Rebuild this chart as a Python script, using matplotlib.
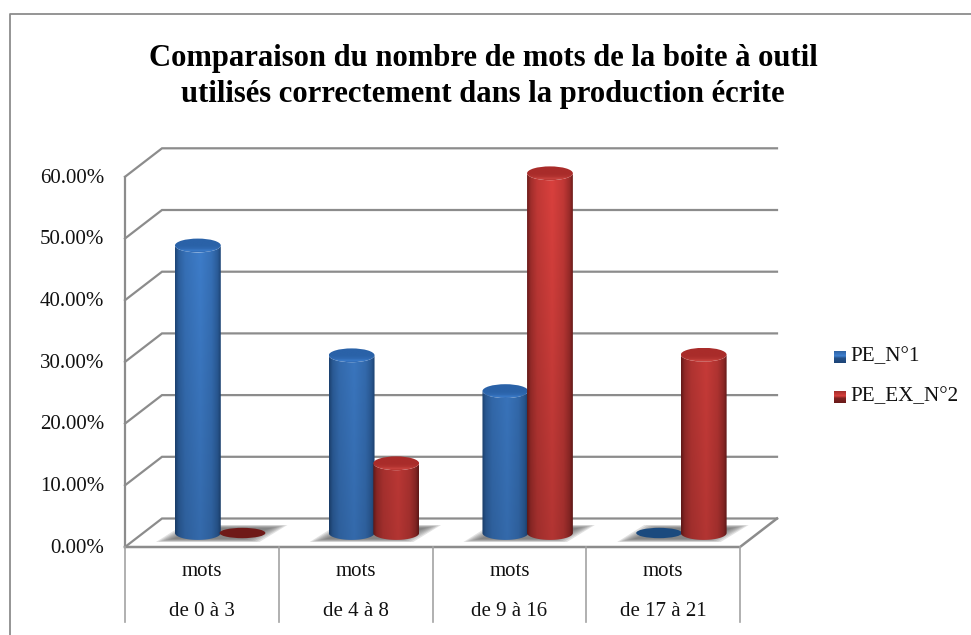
import numpy as np
import matplotlib
matplotlib.use('Agg')
import matplotlib.pyplot as plt
from matplotlib.path import Path
from matplotlib.patches import PathPatch, Ellipse, Polygon

title = "Comparaison du nombre de mots de la boite à outil\nutilisés correctement dans la production écrite"
categories_top = ['mots', 'mots', 'mots', 'mots']
categories = ['de 0 à 3', 'de 4 à 8', 'de 9 à 16', 'de 17 à 21']
series_names = ['PE_N°1', 'PE_EX_N°2']
pe_1 = [46.6, 28.8, 23.0, 0.0]
pe_ex_2 = [0.0, 11.3, 58.3, 28.9]
y_ticks = [0, 10, 20, 30, 40, 50, 60]

# layout of the 3d box, in pixels of the 971x635 picture
W, H = 971, 635
X0, CAT_W = 125, 153.75
Y0, PX_PER_PCT = 547, 6.17
DX, DY = 37 / CAT_W, 28.5 / PX_PER_PCT   # depth of the box in data units
BAR_W = 0.298
BAR_OFF = [0.325, 0.615]
BASE = 14 / PX_PER_PCT                   # bars stand in the middle of the floor
ELL_H = 6.9 / PX_PER_PCT
GRID = '#8c8c8c'
FS = 15

BLUE = dict(edge='#1d4577', mid='#3f80cf', cap='#2a62a8', rim='#3f82d2', flat='#1b4a7e')
RED = dict(edge='#6a1b1a', mid='#d8403d', cap='#a92c2a', rim='#d24a45', flat='#6f1a18')


def rgb(c):
    return np.array(matplotlib.colors.to_rgb(c))


def cylinder(ax, left, value, col, z):
    right = left + BAR_W
    cx = left + BAR_W / 2
    if value <= 0:
        ax.add_patch(Ellipse((cx, BASE), BAR_W, ELL_H * 1.5, color=col['flat'], lw=0, zorder=z))
        return
    top = BASE + value
    t = np.linspace(-np.pi, 0, 40)
    low_x = cx + BAR_W / 2 * np.cos(t)
    low_y = BASE + ELL_H * np.sin(t)
    up_x = cx + BAR_W / 2 * np.cos(t[::-1])
    up_y = top + ELL_H * np.sin(t[::-1])
    body = Path(np.column_stack([np.r_[low_x, up_x], np.r_[low_y, up_y]]))

    nx, ny = 80, 60
    u = np.linspace(0, 1, nx)
    prof = np.interp(u, [0, 0.08, 0.22, 0.55, 0.8, 0.93, 1], [0.05, 0.5, 0.78, 1, 0.78, 0.45, 0.05])
    row = rgb(col['edge'])[None, :] * (1 - prof[:, None]) + rgb(col['mid'])[None, :] * prof[:, None]
    # darker towards the floor of the chart
    y_frac = np.linspace(0, 1, ny)
    shade = 0.82 + 0.18 * np.clip((BASE + y_frac * value) / 58, 0, 1)
    img = row[None, :, :] * shade[:, None, None]
    im = ax.imshow(img, extent=[left, right, BASE - ELL_H, top], origin='lower',
                   aspect='auto', zorder=z, interpolation='bilinear')
    im.set_clip_path(PathPatch(body, transform=ax.transData))

    v = np.linspace(0, 1, 40)
    prof2 = np.interp(v, [0, 0.1, 0.22, 0.45, 1], [0.3, 0.8, 0.25, 0, 0])
    cap = rgb(col['cap'])[None, :] * (1 - prof2[:, None]) + rgb(col['rim'])[None, :] * prof2[:, None]
    im2 = ax.imshow(cap[:, None, :], extent=[left, right, top - ELL_H, top + ELL_H], origin='lower',
                    aspect='auto', zorder=z + 0.1, interpolation='bilinear')
    im2.set_clip_path(Ellipse((cx, top), BAR_W, ELL_H * 2, transform=ax.transData))


fig = plt.figure(figsize=(W / 100, H / 100), dpi=100)
plt.rcParams['font.family'] = ['Liberation Serif', 'DejaVu Serif']
ax = fig.add_axes([0, 0, 1, 1])
ax.set_xlim(-X0 / CAT_W, (W - X0) / CAT_W)
ax.set_ylim(-(H - Y0) / PX_PER_PCT, Y0 / PX_PER_PCT)
ax.set_autoscale_on(False)
ax.axis('off')

# chart border, only left and top are in the crop
ax.plot([10 / W, 10 / W, 1], [0, 1 - 14 / H, 1 - 14 / H], transform=ax.transAxes,
        color=GRID, lw=1.3, clip_on=False)

# walls
for v in y_ticks:
    ax.plot([0, DX, 4 + DX], [v, v + DY, v + DY], color=GRID, lw=1.6, solid_joinstyle='miter', zorder=1)
ax.plot([0, 0], [0, y_ticks[-1]], color=GRID, lw=1.6, zorder=1)
ax.plot([0, 4, 4 + DX], [0, 0, DY], color=GRID, lw=1.8, solid_joinstyle='miter', zorder=1)

# category separators and labels
for i in range(5):
    ax.plot([i, i], [0, -75 / PX_PER_PCT], color='#a3a3a3', lw=1.2, zorder=1)
for i in range(4):
    ax.text(i + 0.5, -25 / PX_PER_PCT, categories_top[i], ha='center', va='center', fontsize=FS, color='#111111')
    ax.text(i + 0.5, -64 / PX_PER_PCT, categories[i], ha='center', va='center', fontsize=FS, color='#111111')

# value labels
for v in y_ticks:
    ax.text(-21 / CAT_W, v - 0.2, '%.2f%%' % v, ha='right', va='center', fontsize=FS, color='#111111')

# floor shadow and bars
for i in range(4):
    sl = i + BAR_OFF[0]
    sr = i + BAR_OFF[1] + BAR_W
    for k in range(8):
        s = k * 2.4 / CAT_W
        sy = k * 0.45 / PX_PER_PCT
        ax.add_patch(Polygon([(sl - 19 / CAT_W + s, BASE - 9 / PX_PER_PCT + sy),
                              (sl + 8 / CAT_W + s, BASE + 8 / PX_PER_PCT - sy),
                              (sr + 22 / CAT_W - s, BASE + 8 / PX_PER_PCT - sy),
                              (sr - 6 / CAT_W - s, BASE - 9 / PX_PER_PCT + sy)],
                             closed=True, color='#6e6e6e', alpha=0.2, lw=0, zorder=2))
    cylinder(ax, i + BAR_OFF[0], pe_1[i], BLUE, 3 + i)
    cylinder(ax, i + BAR_OFF[1], pe_ex_2[i], RED, 3.5 + i)

# title
ax.text((483 - X0) / CAT_W, (Y0 - 76.5) / PX_PER_PCT, title, ha='center', va='center', fontsize=22.1,
        fontweight='bold', color='black', linespacing=1.3)

# legend
for name, col, yp in zip(series_names, [BLUE, RED], [357, 397]):
    lx = (834 - X0) / CAT_W
    lw = 12 / CAT_W
    ly = (Y0 - yp) / PX_PER_PCT
    lh = 6 / PX_PER_PCT
    v = np.linspace(0, 1, 12)
    g = np.interp(v, [0, 0.4, 0.6, 1], [0, 0.2, 1, 0.55])
    sq = rgb(col['edge'])[None, :] * (1 - g[:, None]) + rgb(col['mid'])[None, :] * g[:, None]
    ax.imshow(sq[:, None, :], extent=[lx, lx + lw, ly - lh, ly + lh], origin='lower', aspect='auto',
              zorder=5, interpolation='nearest')
    ax.text((850 - X0) / CAT_W, ly, name, ha='left', va='center', fontsize=FS + 0.2, color='#111111')

fig.savefig('out.png', dpi=100)
